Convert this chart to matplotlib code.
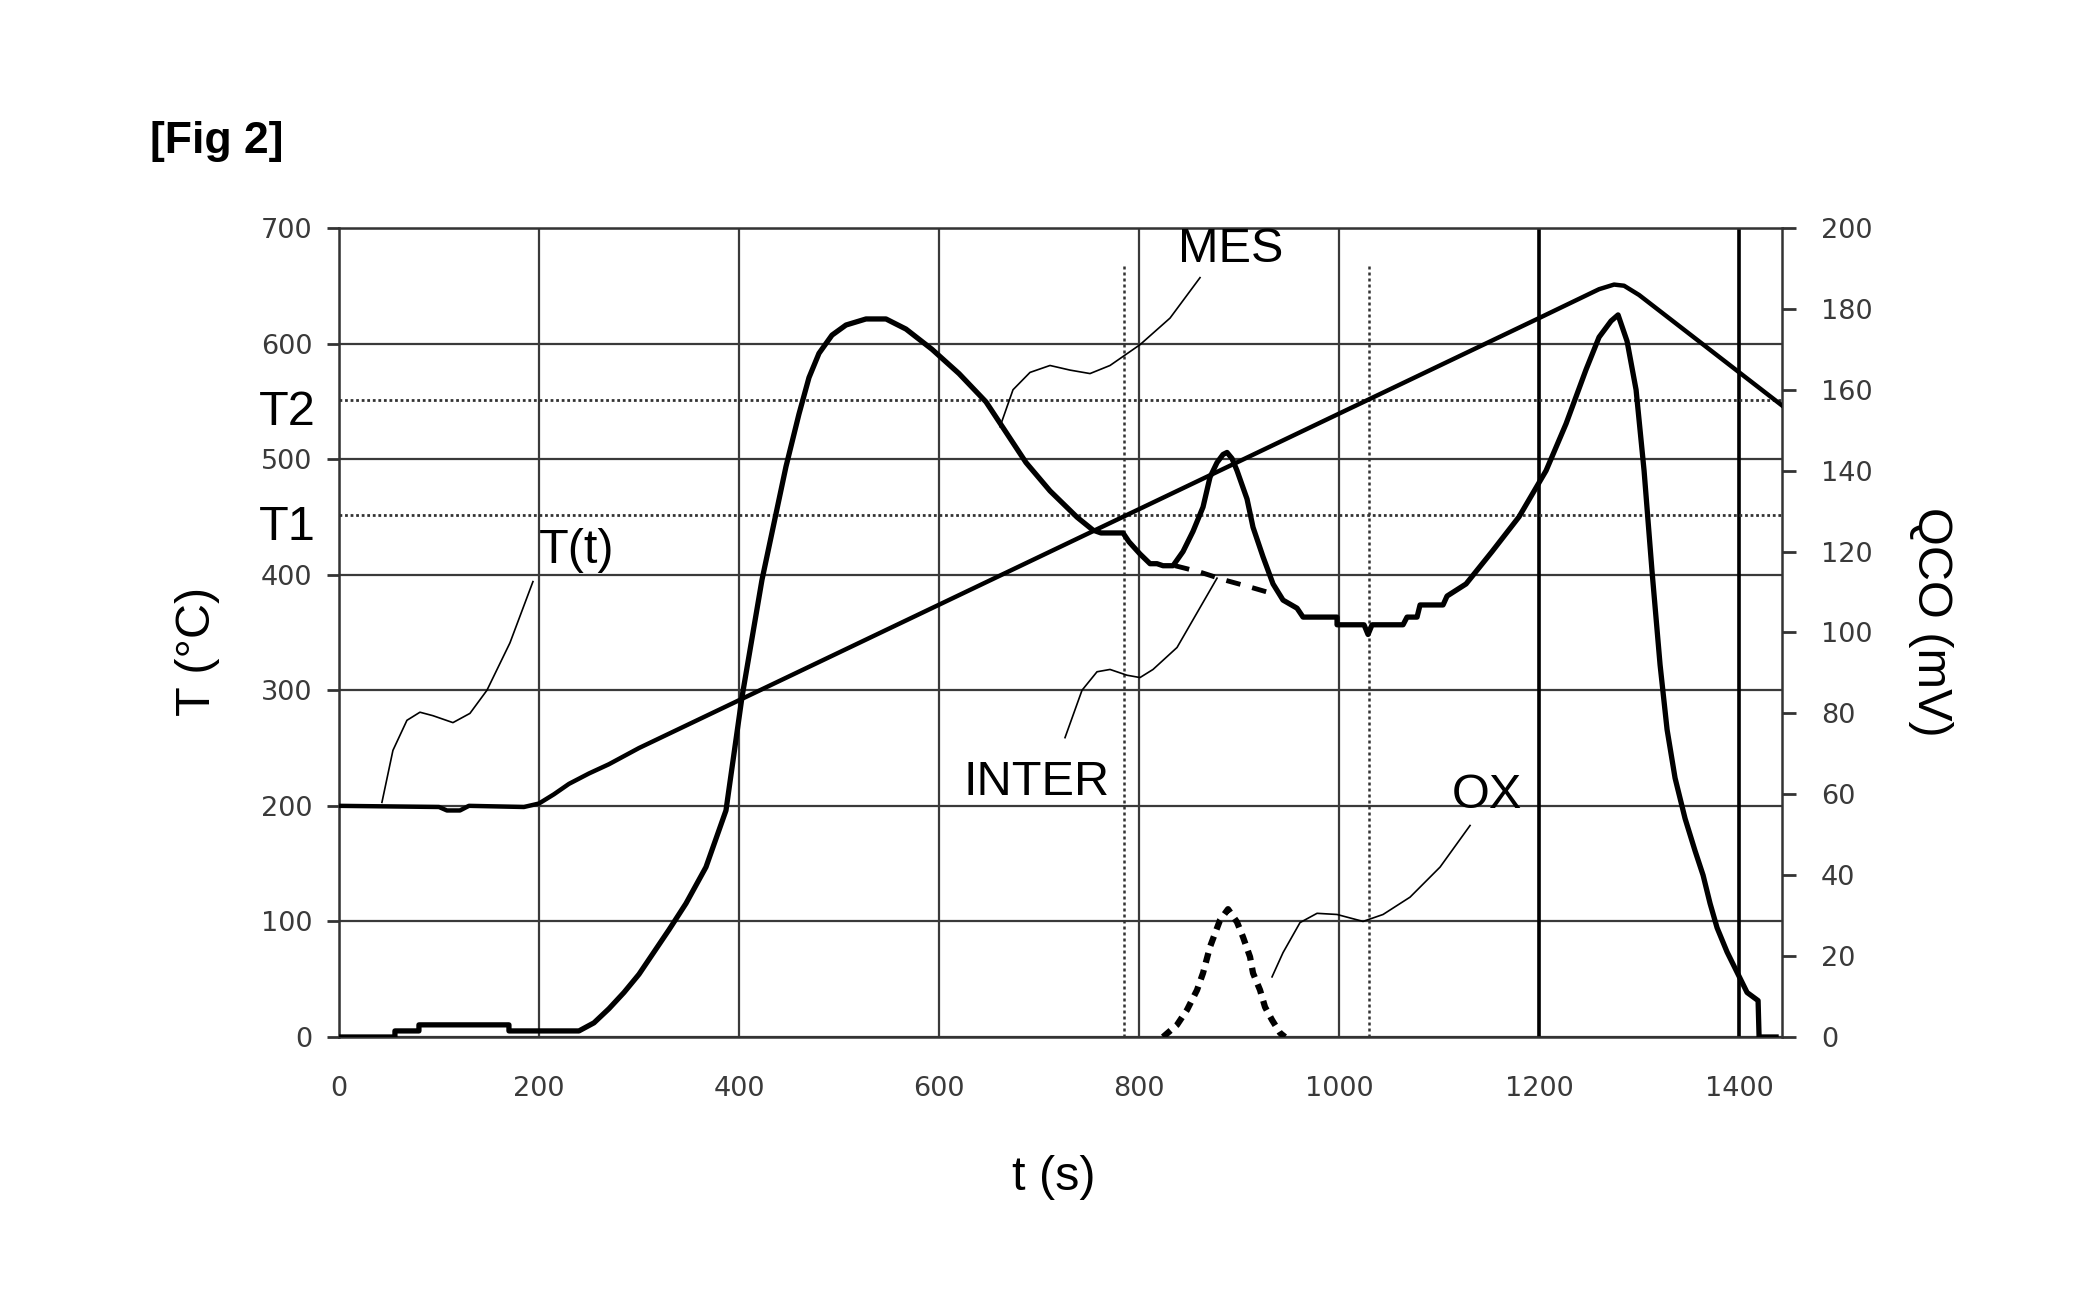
import matplotlib
matplotlib.use('Agg')
import matplotlib.pyplot as plt
from matplotlib.transforms import blended_transform_factory

plt.rcParams['font.family'] = ['Liberation Sans', 'DejaVu Sans']

# T(t) temperature, left axis (deg C)
t_temp = [0, 100, 108, 121, 130, 185, 200, 215, 230, 250, 270, 300, 600, 900, 1200,
          1260, 1275, 1285, 1300, 1445]
temp = [200, 199, 196, 196, 200, 199, 202, 210, 219, 228, 236, 250, 374, 498, 622,
        647, 651, 650, 642, 545]

# MES measured signal, right axis (mV)
t_mes = [0, 56, 56, 80, 80, 170, 170, 240, 255, 270, 285, 300, 315, 330, 347, 367, 387,
         403, 423, 447, 460, 470, 480, 493, 507, 527, 547, 567, 593, 620, 647, 663, 687,
         711, 738, 754, 762, 784, 790, 801, 811, 818, 824, 834, 844, 854, 864, 871, 878,
         884, 888, 893, 898, 908, 914, 924, 934, 944, 958, 964, 998, 998, 1025, 1029,
         1033, 1064, 1068, 1078, 1081, 1104, 1108, 1127, 1153, 1180, 1207, 1227, 1247,
         1260, 1272, 1279, 1288, 1297, 1305, 1313, 1321, 1328, 1336, 1346, 1356, 1364,
         1371, 1378, 1388, 1398, 1408, 1419, 1420, 1437]
q_mes = [0, 0, 1.5, 1.5, 3, 3, 1.5, 1.5, 3.5, 7, 11, 15.5, 21, 26.5, 33, 42, 56,
         84, 113, 141, 154, 163, 169, 173.5, 176, 177.5, 177.5, 175, 170, 164, 157, 151,
         142, 135, 128.5, 125.3, 124.6, 124.6, 122.4, 119.4, 117, 117, 116.5, 116.5, 120,
         125, 131, 138.4, 142, 144, 144.5, 143, 140, 133, 126, 118.7, 112, 108, 106,
         103.8, 103.8, 101.9, 101.9, 99.5, 101.9, 101.9, 103.8, 103.8, 106.8, 106.8, 109,
         112, 120, 128.6, 140, 151.6, 165, 173, 177, 178.5, 172, 160, 140, 115, 92, 76,
         64, 54, 46, 40, 33, 27, 21, 16, 11, 9, 0, 0]

# INTER interpolated baseline (mV)
t_inter = [836, 860, 885, 910, 935]
q_inter = [116.5, 115, 113, 111.3, 109.5]

# OX oxidation peak (mV)
t_ox = [824, 838, 848, 858, 864, 871, 881, 889, 898, 904, 911, 914, 921, 926, 933, 941, 946]
q_ox = [0, 3, 6.7, 11.6, 15.8, 22.3, 28.9, 31.6, 28.4, 24.7, 19.8, 15.8, 11.6, 7.4, 4.2, 1, 0]

# reference levels / markers
t_levels = [('T1', 452), ('T2', 551)]
t_marks = [785, 1030]
dark_vlines = [1200, 1400]

# leader curves (t, T in left-axis units)
lead_mes = ([661, 674, 691, 711, 731, 751, 771, 801, 831, 861],
            [528, 560, 575, 581, 577, 574, 581, 599, 622, 657])
lead_tt = ([43, 54, 68, 81, 94, 114, 131, 148, 171, 194],
           [203, 248, 274, 281, 278, 272, 280, 300, 341, 394])
lead_inter = ([726, 743, 758, 771, 788, 801, 814, 838, 858, 878],
              [259, 300, 316, 318, 313, 311, 318, 337, 367, 397])
lead_ox = ([933, 944, 961, 978, 998, 1024, 1044, 1071, 1101, 1131],
           [52, 73, 99, 107, 106, 100, 106, 121, 147, 183])

fig = plt.figure(figsize=(20.87, 13.10), dpi=100)
ax = fig.add_axes([0.1624, 0.2084, 0.6915, 0.6176])
ax2 = ax.twinx()

ax.set_xlim(0, 1443)
ax.set_ylim(0, 700)
ax2.set_ylim(0, 200)
ax.set_xticks(range(0, 1401, 200))
ax.set_yticks(range(0, 701, 100))
ax2.set_yticks(range(0, 201, 20))

ax.set_axisbelow(True)
ax.grid(True, color='#3a3a3a', lw=1.6)
for x in dark_vlines:
    ax.axvline(x, color='black', lw=2.6, zorder=1)
for x in t_marks:
    ax.vlines(x, 0, 670, color='#333333', lw=1.8, linestyle=(0, (1.2, 1.2)), zorder=1)
tr = blended_transform_factory(ax.transAxes, ax.transData)
for name, lev in t_levels:
    ax.axhline(lev, color='#333333', lw=2.0, linestyle=(0, (1, 1)), zorder=1)
    ax.annotate(name, xy=(0, lev), xycoords=tr, xytext=(-17, -9),
                textcoords='offset points', ha='right', va='center', fontsize=35)

for s in ['left', 'right', 'top', 'bottom']:
    ax.spines[s].set_color('#333333')
    ax.spines[s].set_linewidth(1.8)
    ax2.spines[s].set_visible(False)

ax.tick_params(axis='x', length=0, pad=28, labelsize=19.5, labelcolor='#3a3a3a')
ax.tick_params(axis='y', length=9, width=2, pad=10, labelsize=19.5, labelcolor='#3a3a3a',
               color='#333333')
ax2.tick_params(axis='y', length=10, width=2, pad=18, labelsize=19.5, labelcolor='#3a3a3a',
                color='#333333')
for lab in ax.get_xticklabels() + ax.get_yticklabels() + ax2.get_yticklabels():
    lab.set_family('DejaVu Sans')

ax.plot(t_temp, temp, color='black', lw=3.2, zorder=3)
ax2.plot(t_mes, q_mes, color='black', lw=3.8, zorder=4)
ax2.plot(t_inter, q_inter, color='black', lw=3.5, linestyle=(0, (3, 2.5)), zorder=4)
ax2.plot(t_ox, q_ox, color='black', lw=4.5, linestyle=(0, (1.6, 1.2)), zorder=4)

for lx, ly in [lead_mes, lead_tt, lead_inter, lead_ox]:
    ax.plot(lx, ly, color='black', lw=1.2, zorder=3)

ax.text(892, 681, 'MES', fontsize=35, ha='center', va='center')
ax.text(238, 421, 'T(t)', fontsize=35, ha='center', va='center')
ax.text(698, 220, 'INTER', fontsize=35, ha='center', va='center')
ax.text(1148, 209, 'OX', fontsize=35, ha='center', va='center')

ax.set_ylabel('T (°C)', fontsize=35, va='center')
ax.yaxis.set_label_coords(-0.098, 0.476)
ax2.set_ylabel('QCO (mV)', fontsize=35, rotation=270, va='center')
ax2.yaxis.set_label_coords(1.1026, 0.513)
ax.set_xlabel('t (s)', fontsize=35, va='center')
ax.xaxis.set_label_coords(0.4955, -0.174)

fig.text(150 / 2087, 1 - 141 / 1310, '[Fig 2]', fontsize=32, fontweight='bold',
         ha='left', va='center')

fig.savefig('out.png', dpi=100, facecolor='white')
